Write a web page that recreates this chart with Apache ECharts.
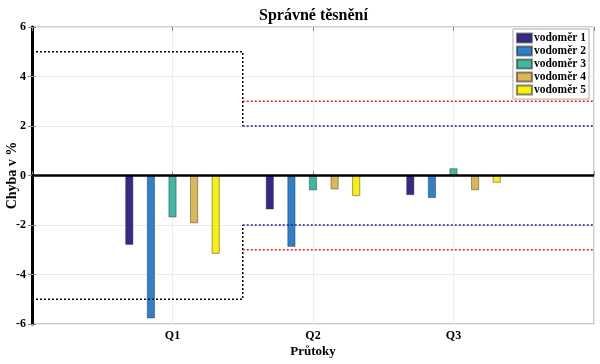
<!DOCTYPE html>
<html><head><meta charset="utf-8">
<script src="https://cdn.jsdelivr.net/npm/echarts@6/dist/echarts.min.js"></script>
<style>html,body{margin:0;padding:0;background:#fff}#c{width:600px;height:364px}</style>
</head><body><div id="c"></div>
<script>
const categories = ['', 'Q1', 'Q2', 'Q3', ''];
const seriesNames = ['vodoměr 1', 'vodoměr 2', 'vodoměr 3', 'vodoměr 4', 'vodoměr 5'];
const vodomer1 = [null, -2.80, -1.37, -0.79, null];
const vodomer2 = [null, -5.77, -2.88, -0.91, null];
const vodomer3 = [null, -1.69, -0.60, 0.29, null];
const vodomer4 = [null, -1.93, -0.56, -0.59, null];
const vodomer5 = [null, -3.16, -0.83, -0.29, null];
const colors = ['#352a87', '#2d80c9', '#3eb89f', '#d9b855', '#f8f00e'];
const yTicks = [-6, -4, -2, 0, 2, 4, 6];
// limit lines (x in axis units: Q1 = 1, Q2 = 2, Q3 = 3)
const limitQ1 = 5;
const limitBlue = 2;
const limitRed = 3;
const zoneSplitX = 1.5;
const xStart = 0;
const xEnd = 4;

const serif = 'Liberation Serif, Times New Roman, serif';
const allData = [vodomer1, vodomer2, vodomer3, vodomer4, vodomer5];

const barSeries = allData.map((d, i) => ({
  name: seriesNames[i], type: 'bar', data: d, xAxisIndex: 0, yAxisIndex: 0,
  barWidth: 8, barGap: '170%',
  itemStyle: { color: colors[i], borderColor: 'rgba(40,40,40,0.55)', borderWidth: 0.8 },
  z: 3
}));

function lineS(data, color, width, type, z) {
  return { type: 'line', xAxisIndex: 1, yAxisIndex: 0, data: data, symbol: 'none',
    lineStyle: { color: color, width: width, type: type }, silent: true, z: z || 4 };
}
const blackUpper = [[xStart, limitQ1], [zoneSplitX, limitQ1], [zoneSplitX, limitBlue]];
const blackLower = [[xStart, -limitQ1], [zoneSplitX, -limitQ1], [zoneSplitX, -limitBlue]];
const blueUpper = [[zoneSplitX, limitBlue], [xEnd, limitBlue]];
const blueLower = [[zoneSplitX, -limitBlue], [xEnd, -limitBlue]];
const redUpper = [[zoneSplitX, limitRed], [xEnd, limitRed]];
const redLower = [[zoneSplitX, -limitRed], [xEnd, -limitRed]];
const zeroLine = [[xStart, 0], [xEnd, 0]];

const chart = echarts.init(document.getElementById('c'), null, { renderer: 'canvas' });
chart.setOption({
  animation: false,
  backgroundColor: '#fff',
  color: colors,
  title: { text: 'Správné těsnění', left: 254, top: 3,
    textStyle: { fontFamily: serif, fontWeight: 'bold', fontSize: 16, color: '#000' } },
  legend: {
    orient: 'vertical', right: 11, top: 29, data: seriesNames,
    icon: 'rect', itemWidth: 15, itemHeight: 9, itemGap: 1,
    backgroundColor: '#fff', borderColor: '#aaa', borderWidth: 1,
    padding: [3, 3, 3, 3],
    textStyle: { fontFamily: serif, fontWeight: 'bold', fontSize: 11.5, color: '#000', lineHeight: 12, padding: [0, 0, 0, -3] }
  },
  grid: { left: 32, right: 6, top: 27, bottom: 40, show: true, borderColor: '#999', borderWidth: 1,
    containLabel: false, outerBoundsMode: 'none' },
  xAxis: [
    { type: 'category', data: categories, boundaryGap: false, position: 'bottom',
      name: 'Průtoky', nameLocation: 'middle', nameGap: 21, nameMoveOverlap: false,
      nameTextStyle: { fontFamily: serif, fontWeight: 'bold', fontSize: 13, color: '#000' },
      axisLine: { show: true, lineStyle: { color: '#999', width: 1 } },
      axisTick: { show: true, inside: true, length: 4, lineStyle: { color: '#888' }, interval: 0 },
      axisLabel: { fontFamily: serif, fontWeight: 'bold', fontSize: 12, color: '#000', margin: 6, interval: 0 },
      splitLine: { show: true, interval: 0, lineStyle: { color: '#ececec', width: 1 } } },
    { type: 'value', min: xStart, max: xEnd, show: false },
    { type: 'category', data: categories, boundaryGap: false, position: 'top',
      axisLine: { show: false }, axisLabel: { show: false },
      axisTick: { show: true, inside: true, length: 4, lineStyle: { color: '#888' }, interval: 0 },
      splitLine: { show: false } }
  ],
  yAxis: [
    { type: 'value', min: yTicks[0], max: yTicks[yTicks.length - 1], interval: 2,
      name: 'Chyba v %', nameLocation: 'middle', nameGap: 13, nameMoveOverlap: false,
      nameTextStyle: { fontFamily: serif, fontWeight: 'bold', fontSize: 14, color: '#000' },
      axisLine: { show: true, onZero: false, lineStyle: { color: '#000', width: 3 } },
      axisTick: { show: true, inside: true, length: 4, lineStyle: { color: '#888' } },
      axisLabel: { fontFamily: serif, fontWeight: 'bold', fontSize: 12, color: '#000', margin: 6 },
      splitLine: { show: true, lineStyle: { color: '#ececec', width: 1 } } },
    { type: 'value', min: yTicks[0], max: yTicks[yTicks.length - 1], interval: 2, position: 'right',
      axisLine: { show: false }, axisLabel: { show: false },
      axisTick: { show: true, inside: true, length: 4, lineStyle: { color: '#888' } },
      splitLine: { show: false } }
  ],
  series: barSeries.concat([
    lineS(blackUpper, '#000', 1.5, [2, 2]),
    lineS(blackLower, '#000', 1.5, [2, 2]),
    lineS(blueUpper, '#1c1c9a', 1.5, [2, 2]),
    lineS(blueLower, '#1c1c9a', 1.5, [2, 2]),
    lineS(redUpper, '#e02020', 1.5, [2, 2]),
    lineS(redLower, '#e02020', 1.5, [2, 2]),
    lineS(zeroLine, '#000', 2.5, 'solid', 5)
  ])
});
</script></body></html>
